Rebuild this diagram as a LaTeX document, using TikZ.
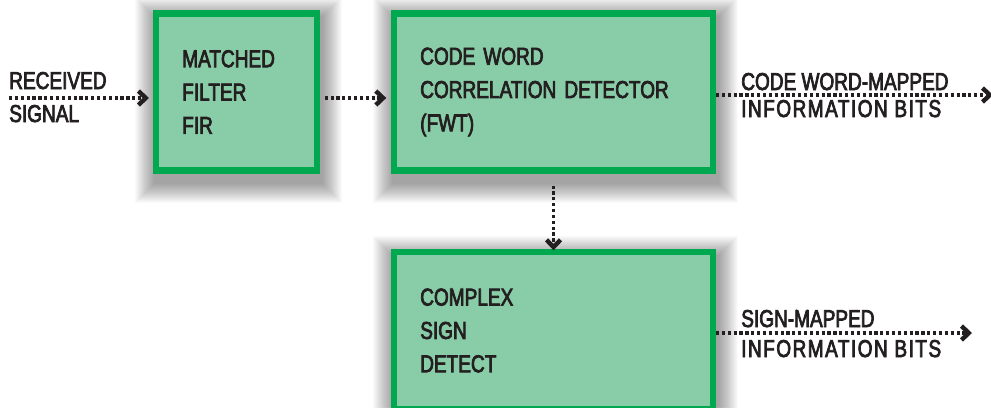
\documentclass[tikz,border=0pt]{standalone}
\usepackage{fontspec}
\setmainfont[FakeStretch=0.78,FakeBold=3]{Liberation Sans}
\usetikzlibrary{arrows.meta}
\definecolor{boxgreen}{HTML}{00A94F}
\definecolor{boxfill}{HTML}{89CDA8}
\definecolor{ink}{HTML}{231F20}
\pgfdeclarelayer{background}
\pgfsetlayers{background,main}

\begin{document}
\begin{tikzpicture}[x=0.75pt,y=-0.75pt,
  every node/.style={text=ink, font=\fontsize{18.3}{25}\selectfont},
  block/.style={draw=boxgreen, fill=boxfill, line width=4.875pt, rectangle,
    align=left, anchor=center, inner xsep=19.5pt, inner ysep=0pt,
    minimum height=117.4pt},
  narrowblock/.style={block, minimum width=120.4pt, text width=81.4pt},
  wideblock/.style={block, minimum width=238.9pt, text width=199.9pt},
  shadowlayer/.style={fill=black, fill opacity=0.021},
  flow/.style={draw=ink, line width=2.5pt, dash pattern=on 2.4pt off 2pt,
    -{Straight Barb[length=5.5pt,width=10.5pt,line width=3.3pt]}},
  lbl/.style={anchor=base west, inner sep=0pt}
]
\useasboundingbox (0,0) rectangle (991,407);

% processing blocks
\node[narrowblock] (mf) at (236.5,92) {MATCHED\\FILTER\\FIR};
\node[wideblock] (cw) at (553.5,92) {CODE WORD\\CORRELATION DETECTOR\\(FWT)};
\node[wideblock] (sd) at (553.5,330.5) {COMPLEX\\SIGN\\DETECT};

% soft drop shadows behind the blocks
\begin{pgfonlayer}{background}
  \fill[white] (0,0) rectangle (991,407);
  \foreach \b in {mf,cw,sd}{
    \foreach \i in {0,...,19}{
      \fill[shadowlayer] ([shift={(1-\i,6-\i)}]\b.north west)
        rectangle ([shift={(3+\i,10+\i)}]\b.south east);
    }
  }
\end{pgfonlayer}

% signal labels
\node[lbl] (rcvA) at (9,89) {RECEIVED};
\node[lbl] (rcvB) at (9,122) {SIGNAL};
\node[lbl] (cwA) at (741,90) {CODE WORD-MAPPED};
\node[lbl] (cwB) at (741,117) {\addfontfeature{LetterSpace=6}INFORMATION BITS};
\node[lbl] (smA) at (741,327) {SIGN-MAPPED};
\node[lbl] (smB) at (741,357) {\addfontfeature{LetterSpace=6}INFORMATION BITS};

% free ends of the connectors
\coordinate (src) at (9,98);
\coordinate (cwEnd) at (993,95);
\coordinate (smEnd) at (972,333);

% dotted signal flow
\draw[flow, shorten >=3pt] (src) -- (src -| mf.west);
\draw[flow, shorten <=3.5pt, shorten >=3.5pt] (mf.east |- src) -- (cw.west |- src);
\draw[flow] (cw.east |- cwEnd) -- (cwEnd);
\draw[flow, shorten <=9pt, shorten >=-1pt] (cw.south) -- (sd.north);
\draw[flow] (sd.east |- smEnd) -- (smEnd);
\end{tikzpicture}
\end{document}
